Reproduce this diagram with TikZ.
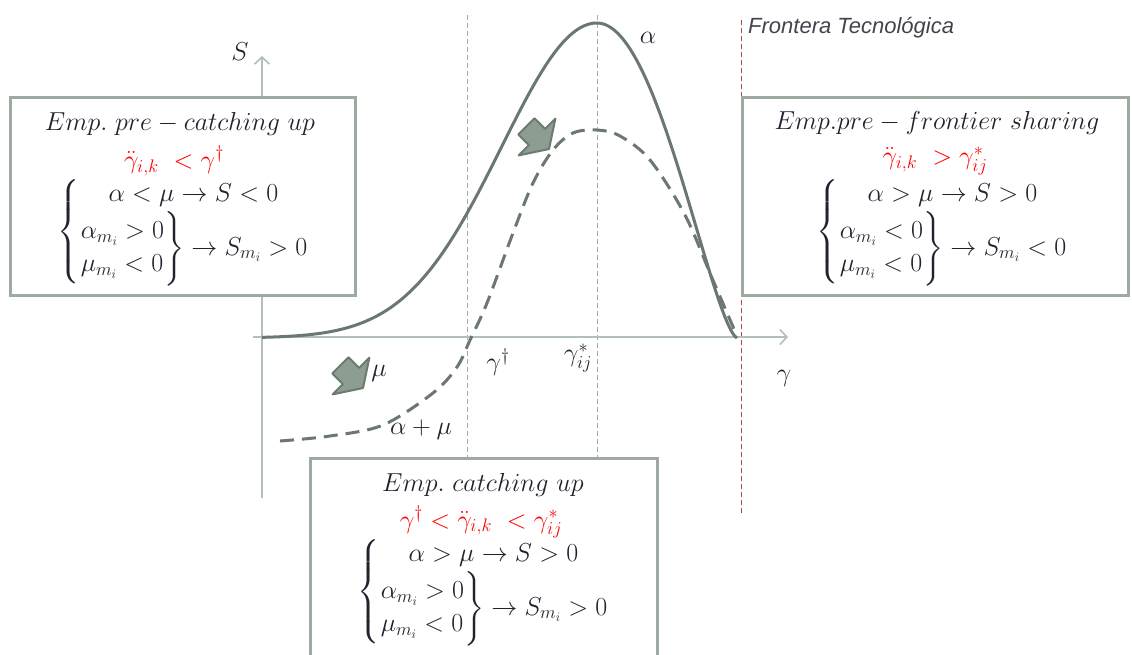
\RequirePackage{fix-cm}
\documentclass[tikz,border=0pt]{standalone}
\usepackage{amsmath}
\usepackage{fontspec}
\newfontfamily\sanf{Liberation Sans}
\usetikzlibrary{arrows.meta}
\definecolor{boxc}{HTML}{9DAAA0}
\definecolor{axisc}{HTML}{B3C0B7}
\definecolor{curvec}{HTML}{6A786F}
\definecolor{txt}{HTML}{22222E}
\definecolor{guidec}{HTML}{A8A8A8}
\definecolor{redline}{HTML}{A84A45}
\definecolor{arrfill}{HTML}{8E9D91}
\definecolor{arrdraw}{HTML}{6C7B70}
\renewcommand{\arraystretch}{1.1}
\begin{document}
\begin{tikzpicture}[x=1pt,y=-1pt,
  font=\fontsize{26}{30}\selectfont,
  declare function={rt(\x)=max(0.0,1-((\x-597)/140)^2);},
  box/.style={draw=boxc, line width=3pt, fill=white, inner sep=0pt},
  lbl/.style={inner sep=0pt, text=txt},
  curve/.style={draw=curvec, line width=3pt},
  guide/.style={draw=guidec, line width=0.8pt, dash pattern=on 5pt off 3pt},
  axis/.style={draw=axisc, line width=1.6pt, -{Straight Barb[length=7pt,width=15pt]}},
  blockarrow/.style={fill=arrfill, draw=arrdraw, line width=2pt, line join=round}]
\useasboundingbox (0,0) rectangle (1132,654);
\clip (0,0) rectangle (1132,654);

% guide lines
\draw[guide] (467,15) -- (467,460);
\draw[guide] (597,15) -- (597,460);
\draw[draw=redline, line width=1pt, dash pattern=on 5pt off 3pt] (741,20) -- (741,515);

% axes
\coordinate (yb) at (262,498);
\coordinate (yt) at (262,56);
\coordinate (xl) at (253,337);
\coordinate (xr) at (788,337);
\draw[axis] (yb) -- (yt);
\draw[axis] (xl) -- (xr);

% curves
\draw[curve, line join=round] plot[domain=262:597, samples=80] (\x,{338-315*exp(-((\x-597)/135)^2)})
  -- plot[domain=597:737, samples=60] (\x,{338-315*rt(\x)*sqrt(rt(\x))});
\draw[curve, dash pattern=on 14pt off 8pt] plot[smooth, tension=0.55] coordinates {(280,441) (330,436) (383,425) (433,393) (457,367) (470,340) (487,303) (513,233) (533,183) (553,150) (573,133) (597,130) (620,136) (650,160) (685,215) (712,278) (737,336)};

% block arrows
\begin{scope}[shift={(537,137)}, rotate=-45]
\draw[blockarrow] (-15,-11.5) -- (0,-11.5) -- (0,-26) -- (17,0) -- (0,26) -- (0,11.5) -- (-15,11.5) -- cycle;
\end{scope}
\begin{scope}[shift={(351,376)}, rotate=-45]
\draw[blockarrow] (-15,-11.5) -- (0,-11.5) -- (0,-26) -- (17,0) -- (0,26) -- (0,11.5) -- (-15,11.5) -- cycle;
\end{scope}

% labels on the plot
\node[lbl] (Sl) at (240,52) {$S$};
\node[lbl] (gl) at (784,378) {$\gamma$};
\node[lbl] (al) at (648,38) {$\alpha$};
\node[lbl] (ml) at (379,373) {$\mu$};
\node[lbl] (aml) at (421,430) {$\alpha+\mu$};
\node[lbl] (gd) at (498,362) {$\gamma^{\dagger}$};
\node[lbl] (gs) at (578,358) {$\gamma^{*}_{ij}$};
\node[lbl, anchor=west, font=\sanf\itshape\fontsize{22}{24}\selectfont, text=txt!85!white] (ft) at (748,28) {Frontera Tecnológica};

% boxes
\node[box, minimum width=345pt, minimum height=198pt] (b1) at (182.5,196) {};
\node[box, minimum width=386pt, minimum height=198pt] (b2) at (935,196) {};
\node[box, minimum width=347pt, minimum height=260pt] (b3) at (483.5,588) {};

% box 1 text
\node[lbl] (t1a) at (180,124) {$Emp.\ pre-catching\ up$};
\node[lbl, text=red] (t1b) at (174,161) {$\ddot{\gamma}_{i,k}\ <\gamma^{\dagger}$};
\node[lbl] (t1c) at (183,232) {$\left\{\begin{array}{@{}c@{}}\alpha<\mu\rightarrow S<0\\ \left.\begin{array}{@{}l@{}}\alpha_{m_i}>0\\ \mu_{m_i}<0\end{array}\right\}\rightarrow S_{m_i}>0\end{array}\right.$};

% box 2 text
\node[lbl] (t2a) at (937,123) {$Emp.pre-frontier\ sharing$};
\node[lbl, text=red] (t2b) at (935,161) {$\ddot{\gamma}_{i,k}\ >\gamma^{*}_{ij}$};
\node[lbl] (t2c) at (942,232) {$\left\{\begin{array}{@{}c@{}}\alpha>\mu\rightarrow S>0\\ \left.\begin{array}{@{}l@{}}\alpha_{m_i}<0\\ \mu_{m_i}<0\end{array}\right\}\rightarrow S_{m_i}<0\end{array}\right.$};

% box 3 text
\node[lbl] (t3a) at (483,485) {$Emp.\ catching\ up$};
\node[lbl, text=red] (t3b) at (481,522) {$\gamma^{\dagger}<\ddot{\gamma}_{i,k}\ <\gamma^{*}_{ij}$};
\node[lbl] (t3c) at (483,592) {$\left\{\begin{array}{@{}c@{}}\alpha>\mu\rightarrow S>0\\ \left.\begin{array}{@{}l@{}}\alpha_{m_i}>0\\ \mu_{m_i}<0\end{array}\right\}\rightarrow S_{m_i}>0\end{array}\right.$};
\end{tikzpicture}
\end{document}
